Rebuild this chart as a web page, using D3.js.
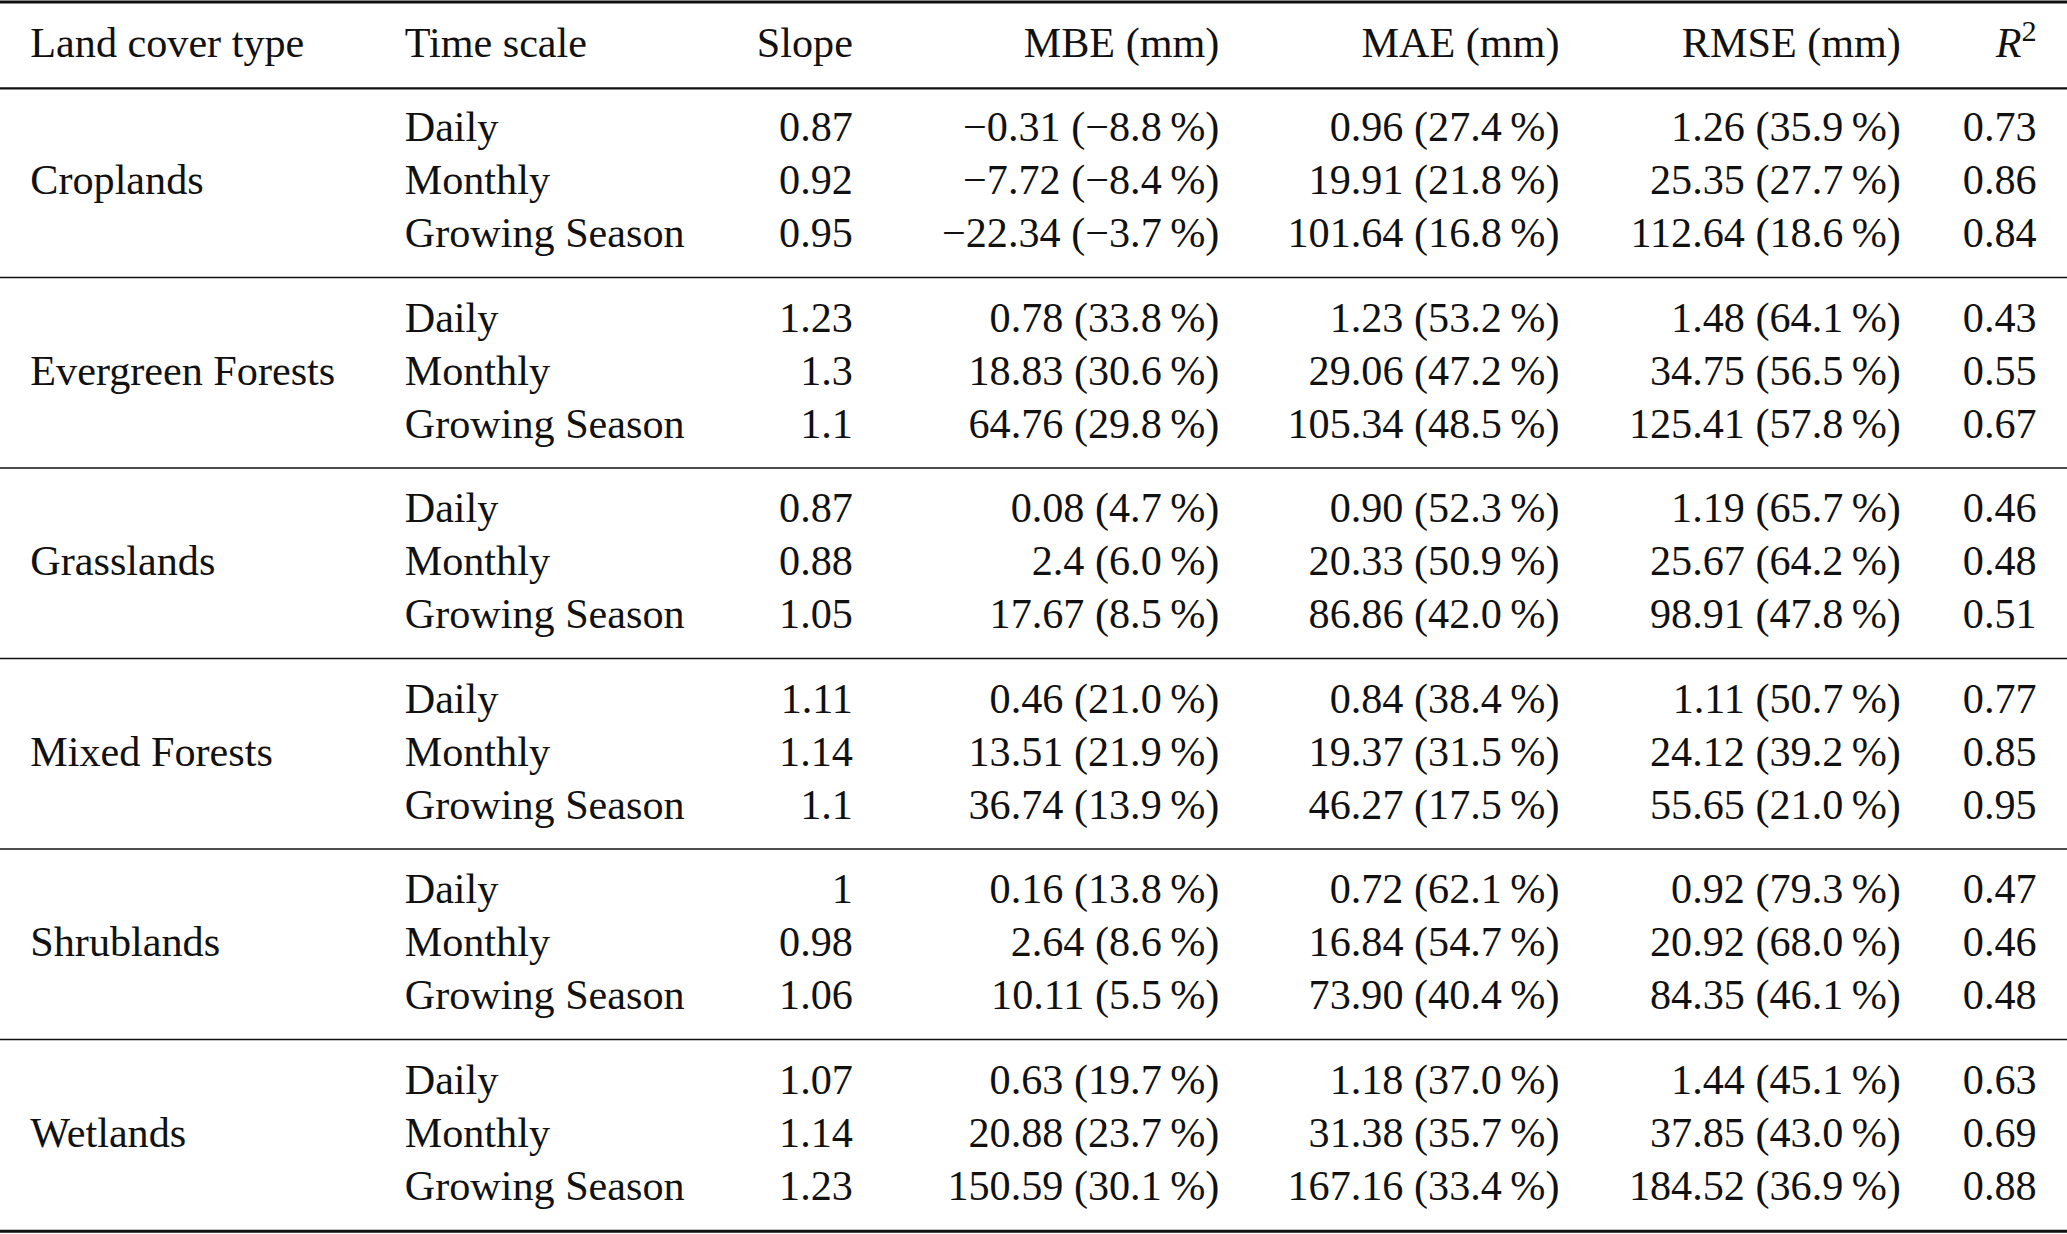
<!DOCTYPE html>
<html>
<head>
<meta charset="utf-8">
<script src="https://cdn.jsdelivr.net/npm/d3@7"></script>
<style>
  html, body { margin: 0; padding: 0; background: #fff; }
  svg text { font-family: "Liberation Serif", "Times New Roman", Times, serif; fill: #111; }
</style>
</head>
<body>
<svg id="tbl" width="2067" height="1234" viewBox="0 0 1568 936"></svg>
<script>
var landCover = ["Croplands", "Evergreen Forests", "Grasslands", "Mixed Forests", "Shrublands", "Wetlands"];
var timeScales = ["Daily", "Monthly", "Growing Season"];
var headers = ["Land cover type", "Time scale", "Slope", "MBE (mm)", "MAE (mm)", "RMSE (mm)", "R2"];

var slope = [
  ["0.87", "0.92", "0.95"], ["1.23", "1.3", "1.1"], ["0.87", "0.88", "1.05"],
  ["1.11", "1.14", "1.1"], ["1", "0.98", "1.06"], ["1.07", "1.14", "1.23"]
];
var mbe = [
  ["\u22120.31 (\u22128.8\u2009%)", "\u22127.72 (\u22128.4\u2009%)", "\u221222.34 (\u22123.7\u2009%)"],
  ["0.78 (33.8\u2009%)", "18.83 (30.6\u2009%)", "64.76 (29.8\u2009%)"],
  ["0.08 (4.7\u2009%)", "2.4 (6.0\u2009%)", "17.67 (8.5\u2009%)"],
  ["0.46 (21.0\u2009%)", "13.51 (21.9\u2009%)", "36.74 (13.9\u2009%)"],
  ["0.16 (13.8\u2009%)", "2.64 (8.6\u2009%)", "10.11 (5.5\u2009%)"],
  ["0.63 (19.7\u2009%)", "20.88 (23.7\u2009%)", "150.59 (30.1\u2009%)"]
];
var mae = [
  ["0.96 (27.4\u2009%)", "19.91 (21.8\u2009%)", "101.64 (16.8\u2009%)"],
  ["1.23 (53.2\u2009%)", "29.06 (47.2\u2009%)", "105.34 (48.5\u2009%)"],
  ["0.90 (52.3\u2009%)", "20.33 (50.9\u2009%)", "86.86 (42.0\u2009%)"],
  ["0.84 (38.4\u2009%)", "19.37 (31.5\u2009%)", "46.27 (17.5\u2009%)"],
  ["0.72 (62.1\u2009%)", "16.84 (54.7\u2009%)", "73.90 (40.4\u2009%)"],
  ["1.18 (37.0\u2009%)", "31.38 (35.7\u2009%)", "167.16 (33.4\u2009%)"]
];
var rmse = [
  ["1.26 (35.9\u2009%)", "25.35 (27.7\u2009%)", "112.64 (18.6\u2009%)"],
  ["1.48 (64.1\u2009%)", "34.75 (56.5\u2009%)", "125.41 (57.8\u2009%)"],
  ["1.19 (65.7\u2009%)", "25.67 (64.2\u2009%)", "98.91 (47.8\u2009%)"],
  ["1.11 (50.7\u2009%)", "24.12 (39.2\u2009%)", "55.65 (21.0\u2009%)"],
  ["0.92 (79.3\u2009%)", "20.92 (68.0\u2009%)", "84.35 (46.1\u2009%)"],
  ["1.44 (45.1\u2009%)", "37.85 (43.0\u2009%)", "184.52 (36.9\u2009%)"]
];
var r2 = [
  ["0.73", "0.86", "0.84"], ["0.43", "0.55", "0.67"], ["0.46", "0.48", "0.51"],
  ["0.77", "0.85", "0.95"], ["0.47", "0.46", "0.48"], ["0.63", "0.69", "0.88"]
];

var svg = d3.select("#tbl");
var W = 1568;
var fs = 32;

// column anchors: left-aligned for first two, right-aligned for the rest
var colX = [23, 307, 647, 925, 1183, 1442, 1545];
var colAnchor = ["start", "start", "end", "end", "end", "end", "end"];

// y position of row centres: group g, row r
var groupY = d3.scaleLinear().domain([0, 1]).range([97, 241.5]);
var rowStep = 40.3;
function rowY(g, r) { return groupY(g) + r * rowStep; }

function txt(x, y, s, anchor) {
  return svg.append("text")
    .attr("x", x).attr("y", y + 10)
    .attr("text-anchor", anchor)
    .attr("font-size", fs)
    .text(s);
}

// header
headers.forEach(function(h, i) {
  if (h === "R2") {
    var t = txt(colX[i], 33, "", "end");
    t.append("tspan").attr("font-style", "italic").text("R");
    t.append("tspan").attr("dy", -12).attr("font-size", 23).text("2");
  } else {
    txt(colX[i], 33, h, colAnchor[i]);
  }
});

// body
landCover.forEach(function(lc, g) {
  txt(colX[0], rowY(g, 1), lc, "start");
  timeScales.forEach(function(ts, r) {
    var y = rowY(g, r);
    var cells = [ts, slope[g][r], mbe[g][r], mae[g][r], rmse[g][r], r2[g][r]];
    cells.forEach(function(c, k) {
      txt(colX[k + 1], y, c, colAnchor[k + 1]);
    });
  });
});

// rules
function rule(y, w) {
  svg.append("line").attr("x1", 0).attr("x2", W).attr("y1", y).attr("y2", y)
    .attr("stroke", "#111").attr("stroke-width", w);
}
rule(1.5, 2.2);
rule(67, 1.6);
d3.range(1, landCover.length).forEach(function(g) {
  rule(rowY(g, 0) - 31, 1.1);
});
rule(934, 2.2);
</script>
</body>
</html>
